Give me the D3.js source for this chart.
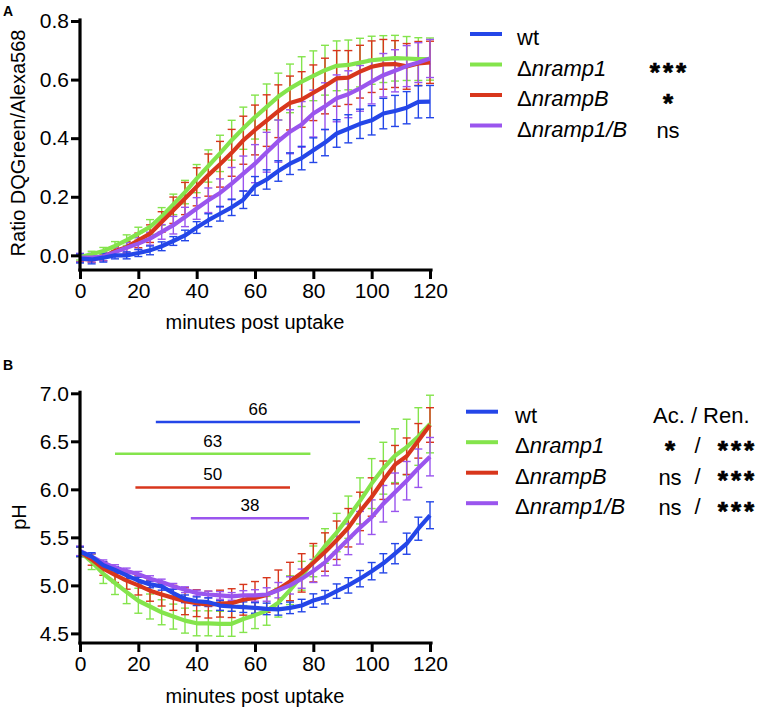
<!DOCTYPE html>
<html><head><meta charset="utf-8">
<script src="https://cdn.jsdelivr.net/npm/d3@7"></script>
<style>body{margin:0;background:#fff}svg{display:block}text{font-family:"Liberation Sans",Arial,Helvetica,sans-serif;fill:#000}</style>
</head><body><svg id="c" width="765" height="711"></svg>
<script>
// ---------- data ----------
const minutes = [0,4,8,12,16,20,24,28,32,36,40,44,48,52,56,60,64,68,72,76,80,84,88,92,96,100,104,108,112,116,120];
const strains = ["wt","nramp1","nrampB","nramp1/B"];
const strainColors = ["#2446e8","#84e44c","#d8361c","#9a55ee"];

// Panel A: ratio DQGreen/Alexa568
const ratioWt = [-0.011,-0.014,-0.008,0.0,0.0,0.008,0.017,0.031,0.049,0.068,0.095,0.12,0.142,0.164,0.19,0.237,0.259,0.288,0.313,0.332,0.359,0.385,0.416,0.432,0.449,0.461,0.484,0.493,0.504,0.524,0.525];
const ratioNramp1 = [-0.006,0.004,0.015,0.032,0.052,0.074,0.097,0.133,0.174,0.216,0.262,0.305,0.348,0.393,0.434,0.472,0.507,0.542,0.57,0.593,0.613,0.632,0.647,0.65,0.658,0.666,0.67,0.673,0.672,0.67,0.67];
const ratioNrampB = [-0.012,-0.014,-0.006,0.015,0.028,0.051,0.074,0.114,0.154,0.194,0.234,0.274,0.311,0.35,0.393,0.428,0.46,0.492,0.52,0.532,0.555,0.578,0.604,0.607,0.627,0.644,0.652,0.653,0.645,0.655,0.659];
const ratioNramp1B = [-0.008,-0.008,-0.004,0.011,0.026,0.04,0.057,0.08,0.103,0.131,0.16,0.188,0.213,0.245,0.279,0.313,0.352,0.39,0.422,0.447,0.484,0.509,0.536,0.55,0.57,0.593,0.615,0.63,0.646,0.658,0.672];
const ratioErrWt = [0.015,0.015,0.015,0.012,0.012,0.012,0.015,0.015,0.015,0.018,0.02,0.022,0.025,0.028,0.03,0.032,0.033,0.035,0.037,0.04,0.042,0.045,0.047,0.048,0.05,0.05,0.052,0.053,0.055,0.055,0.055];
const ratioErrNramp1 = [0.01,0.01,0.012,0.015,0.018,0.022,0.025,0.03,0.035,0.04,0.048,0.055,0.062,0.068,0.072,0.075,0.078,0.08,0.083,0.085,0.085,0.085,0.085,0.085,0.083,0.082,0.08,0.078,0.075,0.073,0.072];
const ratioErrNrampB = [0.01,0.01,0.012,0.015,0.02,0.025,0.03,0.035,0.045,0.055,0.065,0.072,0.078,0.08,0.082,0.085,0.088,0.09,0.092,0.095,0.095,0.095,0.095,0.092,0.09,0.088,0.085,0.08,0.078,0.075,0.072];
const ratioErrNramp1B = [0.015,0.015,0.015,0.015,0.018,0.02,0.022,0.025,0.03,0.033,0.037,0.042,0.048,0.055,0.06,0.065,0.068,0.072,0.075,0.078,0.08,0.08,0.08,0.08,0.078,0.076,0.074,0.072,0.07,0.068,0.065];

// Panel B: pH
const phWt = [5.35,5.3,5.21,5.16,5.105,5.05,5.01,4.99,4.92,4.86,4.835,4.825,4.79,4.78,4.773,4.765,4.755,4.75,4.766,4.79,4.842,4.877,4.94,5.0,5.07,5.148,5.23,5.33,5.434,5.59,5.73];
const phNramp1 = [5.35,5.245,5.12,5.025,4.93,4.84,4.78,4.72,4.675,4.633,4.605,4.605,4.6,4.6,4.65,4.69,4.735,4.82,4.95,5.1,5.25,5.41,5.55,5.71,5.88,6.06,6.22,6.35,6.44,6.55,6.68];
const phNrampB = [5.35,5.27,5.175,5.11,5.05,5.0,4.945,4.905,4.87,4.835,4.815,4.8,4.81,4.815,4.85,4.87,4.9,4.96,5.04,5.13,5.236,5.347,5.47,5.6,5.77,5.92,6.095,6.257,6.345,6.505,6.67];
const phNramp1B = [5.36,5.3,5.235,5.185,5.15,5.115,5.07,5.035,4.99,4.955,4.92,4.905,4.895,4.885,4.895,4.895,4.905,4.95,5.0,5.07,5.15,5.24,5.36,5.48,5.6,5.71,5.85,5.97,6.09,6.22,6.34];
const phErrWt = [0.05,0.04,0.035,0.035,0.035,0.035,0.035,0.04,0.04,0.04,0.045,0.045,0.05,0.05,0.055,0.055,0.06,0.06,0.06,0.065,0.07,0.07,0.075,0.08,0.085,0.09,0.1,0.105,0.11,0.12,0.14];
const phErrNramp1 = [0.05,0.08,0.1,0.12,0.12,0.13,0.13,0.13,0.13,0.13,0.13,0.13,0.13,0.13,0.14,0.14,0.15,0.15,0.15,0.15,0.16,0.18,0.2,0.22,0.24,0.26,0.27,0.28,0.29,0.3,0.3];
const phErrNrampB = [0.05,0.06,0.07,0.08,0.09,0.1,0.11,0.12,0.13,0.14,0.14,0.14,0.14,0.15,0.16,0.17,0.18,0.2,0.2,0.2,0.2,0.2,0.2,0.2,0.2,0.2,0.2,0.2,0.19,0.18,0.18];
const phErrNramp1B = [0.05,0.03,0.03,0.03,0.03,0.03,0.03,0.03,0.03,0.03,0.03,0.035,0.04,0.04,0.05,0.06,0.07,0.08,0.09,0.1,0.12,0.14,0.15,0.16,0.17,0.18,0.19,0.2,0.2,0.2,0.2];

// duration bars in panel B (start min, end min, pH level, label)
const barStart = [26,12,19,38];
const barEnd = [96,79,72,78.5];
const barLevel = [6.70,6.37,6.02,5.70];
const barLabel = ["66","63","50","38"];

// ticks & labels
const xTicks = [0,20,40,60,80,100,120];
const ratioTicks = [0.0,0.2,0.4,0.6,0.8];
const phTicks = [4.5,5.0,5.5,6.0,6.5,7.0];
const sigA = ["","***","*","ns"];
const sigBAc = ["","*","ns","ns"];
const sigBRen = ["","***","***","***"];

// ---------- drawing ----------
const svg = d3.select("#c");
const x = d3.scaleLinear().domain([0,120]).range([80,430]);

function drawPanel(p){
  const g = svg.append("g");
  const y = d3.scaleLinear().domain(p.yDomain).range([p.yBottom, p.yTop]);
  const drawOrder = [1,2,3,0];
  drawOrder.forEach(si=>{
    const vals = p.values[si], errs = p.errors[si];
    const eg = g.append("g").attr("stroke", strainColors[si]).attr("stroke-width",1.4).attr("fill","none");
    minutes.forEach((t,i)=>{
      const cx = x(t), y1 = y(vals[i]-errs[i]), y2 = y(vals[i]+errs[i]);
      eg.append("line").attr("x1",cx).attr("x2",cx).attr("y1",y1).attr("y2",y2);
      eg.append("line").attr("x1",cx-4).attr("x2",cx+4).attr("y1",y1).attr("y2",y1);
      eg.append("line").attr("x1",cx-4).attr("x2",cx+4).attr("y1",y2).attr("y2",y2);
    });
  });
  const line = d3.line().x((d,i)=>x(minutes[i])).y(d=>y(d));
  drawOrder.forEach(si=>{
    g.append("path").datum(p.values[si]).attr("d",line).attr("fill","none")
      .attr("stroke",strainColors[si]).attr("stroke-width",4.2).attr("stroke-linejoin","round");
  });
  const xa = g.append("g").attr("transform",`translate(0,${p.yBottom})`)
    .call(d3.axisBottom(x).tickValues(xTicks).tickSize(9).tickPadding(4).tickSizeOuter(0));
  const ya = g.append("g").attr("transform","translate(80,0)")
    .call(d3.axisLeft(y).tickValues(p.yTicks).tickFormat(d3.format(".1f")).tickSize(9).tickPadding(2).tickSizeOuter(0));
  [xa,ya].forEach(a=>{
    a.select(".domain").remove();
    a.selectAll(".tick line").attr("stroke","#000").attr("stroke-width",3);
    a.selectAll(".tick text").attr("font-size",21).attr("font-family",'"Liberation Sans",Arial,sans-serif').attr("fill","#000");
  });
  g.append("line").attr("x1",80).attr("x2",80).attr("y1",p.yTop-1).attr("y2",p.yBottom)
    .attr("stroke","#000").attr("stroke-width",3.2).attr("stroke-linecap","square");
  g.append("line").attr("x1",80).attr("x2",431).attr("y1",p.yBottom).attr("y2",p.yBottom)
    .attr("stroke","#000").attr("stroke-width",3.2).attr("stroke-linecap","square");
  g.append("text").attr("x",255).attr("y",p.xTitleY).attr("text-anchor","middle").attr("font-size",20).text("minutes post uptake");
  g.append("text").attr("transform",`translate(${p.yTitleX},${p.yTitleY}) rotate(-90)`).attr("dy","0.35em")
    .attr("text-anchor","middle").attr("font-size",20).text(p.yTitle);
  g.append("text").attr("x",3).attr("y",p.letterY).attr("font-size",14).attr("font-weight","bold").text(p.letter);
  return {g,y};
}

const A = drawPanel({yDomain:[-0.05,0.8], yTop:21, yBottom:270, yTicks:ratioTicks,
  values:[ratioWt,ratioNramp1,ratioNrampB,ratioNramp1B], errors:[ratioErrWt,ratioErrNramp1,ratioErrNrampB,ratioErrNramp1B],
  xTitleY:329, yTitleX:18, yTitleY:143, yTitle:"Ratio DQGreen/Alexa568", letter:"A", letterY:16});
const B = drawPanel({yDomain:[4.4,7.0], yTop:393.3, yBottom:643, yTicks:phTicks,
  values:[phWt,phNramp1,phNrampB,phNramp1B], errors:[phErrWt,phErrNramp1,phErrNrampB,phErrNramp1B],
  xTitleY:703, yTitleX:19, yTitleY:517, yTitle:"pH", letter:"B", letterY:370});

barLevel.forEach((lv,i)=>{
  const yy = B.y(lv);
  B.g.append("line").attr("x1",x(barStart[i])).attr("x2",x(barEnd[i])).attr("y1",yy).attr("y2",yy)
    .attr("stroke",strainColors[i]).attr("stroke-width",2.5);
  B.g.append("text").attr("x",(x(barStart[i])+x(barEnd[i]))/2).attr("y",yy-7).attr("text-anchor","middle")
    .attr("font-size",17).text(barLabel[i]);
});

function legend(x0, y0, textX){
  const lg = svg.append("g");
  strains.forEach((s,i)=>{
    const ry = y0 + i*30.5;
    lg.append("line").attr("x1",x0).attr("x2",x0+32).attr("y1",ry).attr("y2",ry)
      .attr("stroke",strainColors[i]).attr("stroke-width",4);
    const t = lg.append("text").attr("x",textX).attr("y",ry+11).attr("font-size",22);
    if(s==="wt"){ t.text("wt"); }
    else { t.append("tspan").text("\u0394"); t.append("tspan").attr("font-style","italic").text(s); }
  });
  return lg;
}
function stars(g, str, cx, ry){
  if(str.indexOf("*")>=0){
    g.append("text").attr("x",cx+1.5).attr("y",ry+16.5).attr("text-anchor","middle")
      .attr("font-family",'"DejaVu Sans",sans-serif').attr("font-weight","bold").attr("font-size",26)
      .attr("letter-spacing",3).attr("stroke","#000").attr("stroke-width",0.7).text(str);
  } else {
    g.append("text").attr("x",cx).attr("y",ry+12).attr("text-anchor","middle").attr("font-size",22).text(str);
  }
}
const LA = legend(470, 34, 517);
sigA.forEach((s,i)=>{ if(s) stars(LA, s, 668, 34+i*30.5); });
const LB = legend(466, 411.7, 515);
LB.append("text").attr("x",653).attr("y",411.7+11).attr("font-size",22).text("Ac. / Ren.");
[1,2,3].forEach(i=>{
  const ry = 411.7 + i*30.5;
  stars(LB, sigBAc[i], 670, ry);
  LB.append("text").attr("x",697.5).attr("y",ry+11).attr("text-anchor","middle").attr("font-size",22).text("/");
  stars(LB, sigBRen[i], 736, ry);
});
</script></body></html>
